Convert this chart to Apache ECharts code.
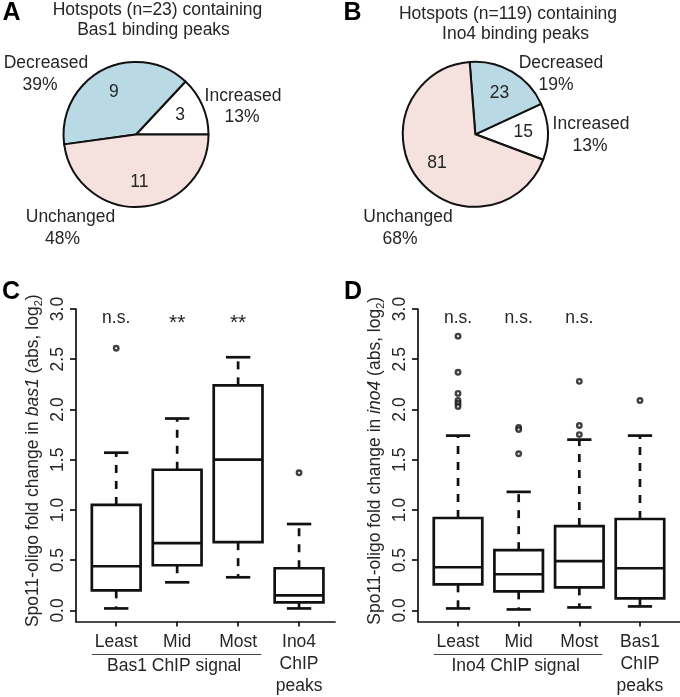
<!DOCTYPE html>
<html><head><meta charset="utf-8">
<script src="https://cdn.jsdelivr.net/npm/echarts@6/dist/echarts.min.js"></script>
<style>html,body{margin:0;padding:0;background:#fff}#c{width:680px;height:697px}</style>
</head><body><div id="c"></div>
<script>
// ---------- data ----------
const pieCats = ['Increased', 'Decreased', 'Unchanged'];
const pieColors = ['#ffffff', '#b9d9e5', '#f5e1dd'];
const pieA = [3, 9, 11];
const pieB = [15, 23, 81];
const pieTitleA = ['Hotspots (n=23) containing', 'Bas1 binding peaks'];
const pieTitleB = ['Hotspots (n=119) containing', 'Ino4 binding peaks'];

// box stats: [lower whisker, Q1, median, Q3, upper whisker]
const catC = ['Least', 'Mid', 'Most', 'Ino4\nChIP\npeaks'];
const boxC = [[0.02, 0.20, 0.44, 1.05, 1.57], [0.28, 0.45, 0.67, 1.40, 1.91], [0.33, 0.68, 1.50, 2.24, 2.52], [0.02, 0.08, 0.15, 0.42, 0.86]];
const outC = [[2.61], [], [], [1.37]];
const sigC = ['n.s.', '**', '**', ''];
const groupC = 'Bas1 ChIP signal';
const geneC = 'bas1';

const catD = ['Least', 'Mid', 'Most', 'Bas1\nChIP\npeaks'];
const boxD = [[0.02, 0.26, 0.43, 0.92, 1.74], [0.01, 0.19, 0.36, 0.60, 1.18], [0.03, 0.23, 0.49, 0.84, 1.70], [0.04, 0.12, 0.42, 0.91, 1.74]];
const outD = [[2.73, 2.37, 2.16, 2.09, 2.06, 2.03], [1.82, 1.80, 1.56], [2.28, 1.84, 1.75], [2.09]];
const sigD = ['n.s.', 'n.s.', 'n.s.', ''];
const groupD = 'Ino4 ChIP signal';
const geneD = 'ino4';

const yTicks = [0, 0.5, 1, 1.5, 2, 2.5, 3];
const sigLevel = 2.91;

// ---------- styling ----------
const FONT = '"Liberation Sans", Arial, Helvetica, sans-serif';
const TXT = '#262626';
const INK = '#111';
const FS = 17.5;
const LW = 2.7;

const chart = echarts.init(document.getElementById('c'), null, {renderer: 'canvas'});

function pieSeries(data, center, start) {
  const d = data.map((v, i) => ({name: pieCats[i], value: v, itemStyle: {color: pieColors[i]}}));
  return [{
    type: 'pie', center, radius: 72.5, startAngle: start, clockwise: false, silent: true,
    animation: false, label: {show: false}, labelLine: {show: false},
    itemStyle: {borderColor: INK, borderWidth: 2}, data: d
  }, {
    type: 'pie', center, radius: 90, startAngle: start, clockwise: false, silent: true,
    animation: false, z: 5,
    itemStyle: {color: 'transparent', borderWidth: 0},
    label: {show: true, position: 'inside', formatter: '{c}', fontSize: FS, fontFamily: FONT, color: TXT},
    labelLine: {show: false},
    data: data.map((v, i) => ({name: pieCats[i], value: v}))
  }];
}

function xAx(gi, cats) {
  const vals = cats.map((_, i) => i + 1);
  return {
    type: 'value', gridIndex: gi, min: 0.34, max: 4.66,
    axisLine: {show: true, onZero: false, lineStyle: {color: INK, width: 1.7}},
    axisTick: {show: true, length: 5, customValues: vals, lineStyle: {color: INK, width: 1.7}},
    axisLabel: {show: true, customValues: vals, formatter: v => cats[Math.round(v) - 1],
      margin: 9.5, fontSize: FS, fontFamily: FONT, color: TXT, lineHeight: 22, verticalAlign: 'top'},
    splitLine: {show: false}
  };
}

function yAx(gi, gene) {
  return {
    type: 'value', gridIndex: gi, min: -0.11, max: 3,
    axisLine: {show: true, lineStyle: {color: INK, width: 1.7}},
    axisTick: {show: true, length: 6, customValues: yTicks, lineStyle: {color: INK, width: 1.7}},
    axisLabel: {customValues: yTicks, formatter: v => v.toFixed(1), rotate: 90, margin: 9,
      fontSize: FS, fontFamily: FONT, color: TXT},
    splitLine: {show: false},
    name: '{a|Spo11-oligo fold change in }{i|' + gene + '}{a| (abs, log}{s|2}{a|)}',
    nameLocation: 'middle', nameRotate: 90, nameGap: 32,
    nameTextStyle: {
      padding: [0, 0, 0, 9],
      rich: {
        a: {fontSize: FS, fontFamily: FONT, color: TXT, lineHeight: 22},
        i: {fontSize: FS, fontFamily: FONT, color: TXT, lineHeight: 22, fontStyle: 'italic'},
        s: {fontSize: 11, fontFamily: FONT, color: TXT, lineHeight: 12, verticalAlign: 'bottom'}
      }
    }
  };
}

function boxSeries(gi, boxes, sig) {
  return {
    type: 'custom', xAxisIndex: gi, yAxisIndex: gi, silent: true, clip: false, animation: false,
    data: boxes.map((b, i) => [i + 1].concat(b)),
    encode: {x: 0, y: [1, 2, 3, 4, 5]},
    renderItem: (params, api) => {
      const x = api.value(0);
      const P = v => api.coord([x, v]);
      const cx = P(api.value(1))[0];
      const yLo = P(api.value(1))[1], yQ1 = P(api.value(2))[1], yMd = P(api.value(3))[1],
            yQ3 = P(api.value(4))[1], yHi = P(api.value(5))[1];
      const bw = api.size([0.8, 0])[0];
      const cw = bw / 2;
      const s = {stroke: INK, lineWidth: LW, fill: null};
      const dash = {stroke: INK, lineWidth: LW, lineDash: [8, 8], fill: null};
      const ch = [
        {type: 'line', shape: {x1: cx, y1: yQ3, x2: cx, y2: yHi}, style: dash},
        {type: 'line', shape: {x1: cx, y1: yQ1, x2: cx, y2: yLo}, style: dash},
        {type: 'line', shape: {x1: cx - cw / 2, y1: yHi, x2: cx + cw / 2, y2: yHi}, style: s},
        {type: 'line', shape: {x1: cx - cw / 2, y1: yLo, x2: cx + cw / 2, y2: yLo}, style: s},
        {type: 'rect', shape: {x: cx - bw / 2, y: yQ3, width: bw, height: yQ1 - yQ3},
          style: {fill: 'none', stroke: INK, lineWidth: LW}},
        {type: 'line', shape: {x1: cx - bw / 2, y1: yMd, x2: cx + bw / 2, y2: yMd}, style: s}
      ];
      const t = sig[params.dataIndex];
      if (t) {
        const sy = P(sigLevel)[1] + (t === '**' ? 5 : 0);
        ch.push({type: 'text', x: cx, y: sy, style: {text: t, fill: TXT, fontSize: t === '**' ? 21 : FS,
          fontFamily: FONT, align: 'center', verticalAlign: 'middle'}});
      }
      return {type: 'group', children: ch};
    }
  };
}

function outSeries(gi, outs) {
  const data = [];
  outs.forEach((arr, i) => arr.forEach(v => data.push([i + 1, v])));
  return {type: 'scatter', xAxisIndex: gi, yAxisIndex: gi, data, symbol: 'circle', symbolSize: 4.5,
    silent: true, animation: false, z: 4,
    itemStyle: {color: '#fff', borderColor: INK, borderWidth: 2.4}};
}

const option = {
  backgroundColor: '#fff',
  animation: false,
  grid: [
    {left: 76, top: 309, width: 259, height: 314},
    {left: 418, top: 309, width: 263.5, height: 314}
  ],
  xAxis: [xAx(0, catC), Object.assign(xAx(1, catD), {})],
  yAxis: [yAx(0, geneC), yAx(1, geneD)],
  series: [].concat(
    pieSeries(pieA, [136, 134.5], 0),
    pieSeries(pieB, [475.3, 134.3], -20.5),
    [boxSeries(0, boxC, sigC), outSeries(0, outC), boxSeries(1, boxD, sigD), outSeries(1, outD)]
  )
};
option.xAxis[0].max = 4.59;
chart.setOption(option);

// ---------- annotations ----------
function txt(text, x, y, extra) {
  return Object.assign({type: 'text', x, y, silent: true,
    style: Object.assign({text, fill: TXT, fontSize: FS, fontFamily: FONT, align: 'center', verticalAlign: 'middle'}, extra || {})});
}
function pct(data, i) {
  const sum = data.reduce((a, b) => a + b, 0);
  return Math.round(data[i] / sum * 100) + '%';
}
const g = [];
// panel letters
[['A', 11.5, 13.5], ['B', 352.5, 13.5], ['C', 11, 292.5], ['D', 353, 292.5]].forEach(p =>
  g.push(txt(p[0], p[1], p[2], {fontSize: 25, fontWeight: 'bold', fill: '#000'})));
// pie titles
g.push(txt(pieTitleA[0], 157.5, 10), txt(pieTitleA[1], 153.5, 30));
g.push(txt(pieTitleB[0], 508, 13.7), txt(pieTitleB[1], 515.5, 34.5));
// pie outer labels (positions per category)
const posA = [[[243, 96], [242, 117]], [[46, 63], [40, 85]], [[70.5, 217], [62.5, 239]]];
const posB = [[[591, 124], [590, 146]], [[561, 63], [556, 85]], [[408, 217], [400, 239]]];
pieCats.forEach((c, i) => {
  g.push(txt(c, posA[i][0][0], posA[i][0][1]), txt(pct(pieA, i), posA[i][1][0], posA[i][1][1]));
  g.push(txt(c, posB[i][0][0], posB[i][0][1]), txt(pct(pieB, i), posB[i][1][0], posB[i][1][1]));
});
// group brackets under boxplots
[[0, groupC], [1, groupD]].forEach(([gi, label]) => {
  const a = chart.convertToPixel({gridIndex: gi}, [0.6, 0]);
  const b = chart.convertToPixel({gridIndex: gi}, [3.38, 0]);
  const m = chart.convertToPixel({gridIndex: gi}, [1.95, 0]);
  g.push({type: 'line', silent: true, shape: {x1: a[0], y1: 654.5, x2: b[0], y2: 654.5},
    style: {stroke: '#444', lineWidth: 1}});
  g.push(txt(label, m[0], 666.5));
});
chart.setOption({graphic: g});
</script>
</body></html>
